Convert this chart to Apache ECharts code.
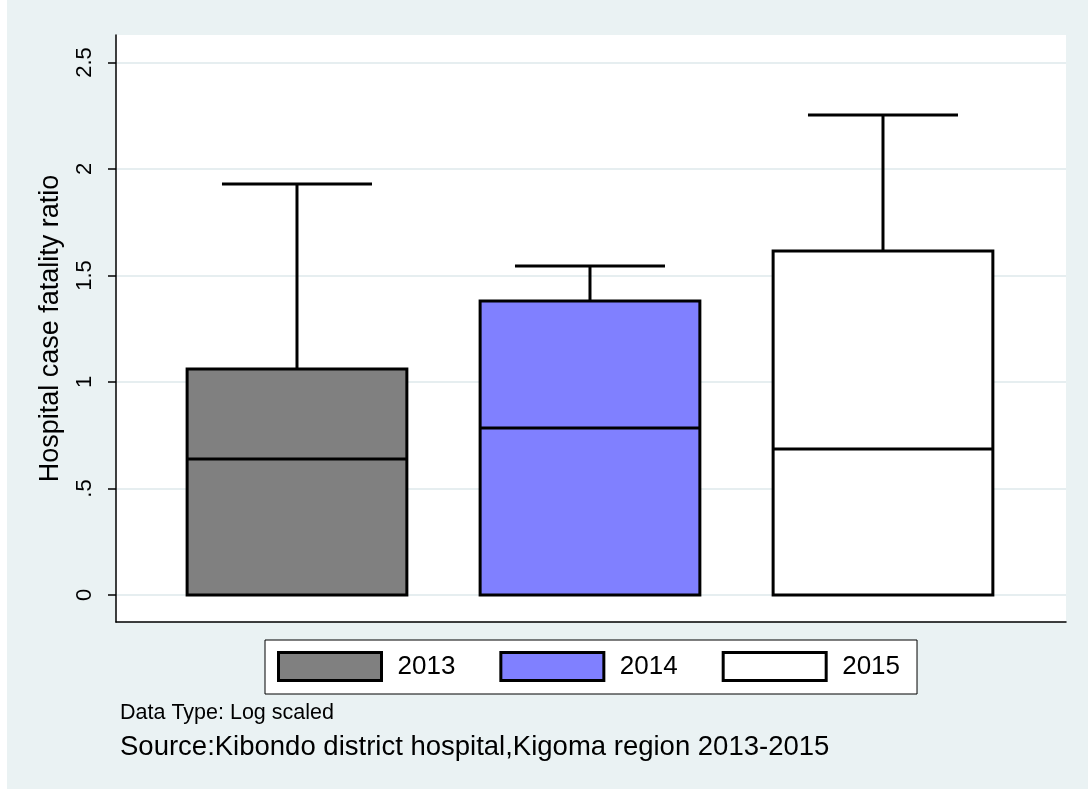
<!DOCTYPE html>
<html lang="en">
<head>
    <meta charset="UTF-8">
    <title>Hospital case fatality ratio</title>
    <script src="https://cdn.jsdelivr.net/npm/echarts@6/dist/echarts.min.js"></script>
</head>
<style>
html,body{margin: 0;padding: 0}
#chartBox{width: 1088px;height: 789px;background-color: #eaf2f3}
</style>
<body>
    <div id="chartBox"></div>
</body>
<script>
// 数据
const years = ['2013', '2014', '2015'];
const whiskerLow = [0, 0, 0];
const q1 = [0, 0, 0];
const median = [0.638, 0.784, 0.685];
const q3 = [1.061, 1.380, 1.615];
const whiskerHigh = [1.93, 1.545, 2.254];
const yTicks = [0, 0.5, 1, 1.5, 2, 2.5];
const yTickLabels = ['0', '.5', '1', '1.5', '2', '2.5'];

const boxColors = ['#808080', '#8080ff', '#ffffff'];

// 画箱线图的函数
function renderBox(params, api) {
    let x = api.value(0);
    let pLow = api.coord([x, api.value(1)]);
    let pQ1 = api.coord([x, api.value(2)]);
    let pMed = api.coord([x, api.value(3)]);
    let pQ3 = api.coord([x, api.value(4)]);
    let pHigh = api.coord([x, api.value(5)]);
    let halfBox = api.size([0.75, 0])[0] / 2;
    let halfCap = api.size([0.512, 0])[0] / 2;
    let cx = pMed[0];
    let line = {stroke: '#000', lineWidth: 3};
    return {
        type: 'group',
        children: [
            {type: 'line', shape: {x1: cx, y1: pQ3[1], x2: cx, y2: pHigh[1]}, style: line},
            {type: 'line', shape: {x1: cx - halfCap, y1: pHigh[1], x2: cx + halfCap, y2: pHigh[1]}, style: line},
            {type: 'line', shape: {x1: cx, y1: pQ1[1], x2: cx, y2: pLow[1]}, style: line},
            {type: 'rect', shape: {x: cx - halfBox, y: pQ3[1], width: halfBox * 2, height: pQ1[1] - pQ3[1]},
                style: {fill: api.visual('color'), stroke: '#000', lineWidth: 3}},
            {type: 'line', shape: {x1: cx - halfBox, y1: pMed[1], x2: cx + halfBox, y2: pMed[1]}, style: line}
        ]
    };
}

function getSeries() {
    return years.map((year, i) => ({
        type: 'custom',
        name: year,
        xAxisIndex: 1,
        yAxisIndex: 1,
        itemStyle: {color: boxColors[i], borderColor: '#000', borderWidth: 3},
        renderItem: renderBox,
        encode: {x: 0, y: [1, 2, 3, 4, 5]},
        data: [[i + 1, whiskerLow[i], q1[i], median[i], q3[i], whiskerHigh[i]]],
        z: 5
    }));
}

let chartObj = echarts.init(document.getElementById('chartBox'), null, {renderer: 'canvas'});
let font = '"Liberation Sans", Arial, sans-serif';
let option = {
    backgroundColor: '#eaf2f3',
    animation: false,
    textStyle: {fontFamily: font},
    grid: [
        {left: 116, right: 22, top: 35, bottom: 167, show: true, backgroundColor: '#ffffff', borderWidth: 0},
        {left: 116, right: 22, top: 62.5, bottom: 194, show: false}
    ],
    xAxis: [
        {gridIndex: 0, type: 'value', min: 0, max: 1, axisLine: {show: true, lineStyle: {color: '#000', width: 1.5}},
            axisTick: {show: false}, axisLabel: {show: false}, splitLine: {show: false}},
        {gridIndex: 1, type: 'value', min: 0.3823, max: 3.6246, show: false, splitLine: {show: false}}
    ],
    yAxis: [
        {gridIndex: 0, type: 'value', min: 0, max: 1, axisLine: {show: true, lineStyle: {color: '#000', width: 1.5}},
            axisTick: {show: false}, axisLabel: {show: false}, splitLine: {show: false},
            name: 'Hospital case fatality ratio', nameLocation: 'middle', nameGap: 52,
            nameTextStyle: {fontSize: 27, color: '#000', fontFamily: font}},
        {gridIndex: 1, type: 'value', min: yTicks[0], max: yTicks[yTicks.length - 1], interval: 0.5,
            axisLine: {show: false},
            axisTick: {show: true, length: 8, lineStyle: {color: '#000', width: 1.5}},
            axisLabel: {rotate: 90, fontSize: 22, color: '#000', margin: 20, fontFamily: font,
                formatter: v => yTickLabels[yTicks.indexOf(v)]},
            splitLine: {show: true, lineStyle: {color: '#e6eef0', width: 2}}}
    ],
    legend: {
        left: 265, top: 640,
        orient: 'horizontal',
        backgroundColor: '#ffffff', borderColor: '#000', borderWidth: 1,
        padding: [11, 17, 12, 12],
        itemWidth: 103, itemHeight: 28, itemGap: 44,
        icon: 'rect',
        itemStyle: {borderColor: '#000', borderWidth: 3},
        textStyle: {fontSize: 26, color: '#000', fontFamily: font, padding: [0, 0, 0, 11]},
        data: years
    },
    graphic: [
        {type: 'rect', left: 0, top: 0, shape: {width: 7, height: 789}, style: {fill: '#ffffff'}, silent: true},
        {type: 'text', left: 120, top: 702, style: {text: 'Data Type: Log scaled', fontSize: 21.5, fill: '#000', fontFamily: font}},
        {type: 'text', left: 120, top: 733, style: {text: 'Source:Kibondo district hospital,Kigoma region 2013-2015', fontSize: 27.5, fill: '#000', fontFamily: font}}
    ],
    series: getSeries()
};
chartObj.setOption(option);
</script>
</html>
